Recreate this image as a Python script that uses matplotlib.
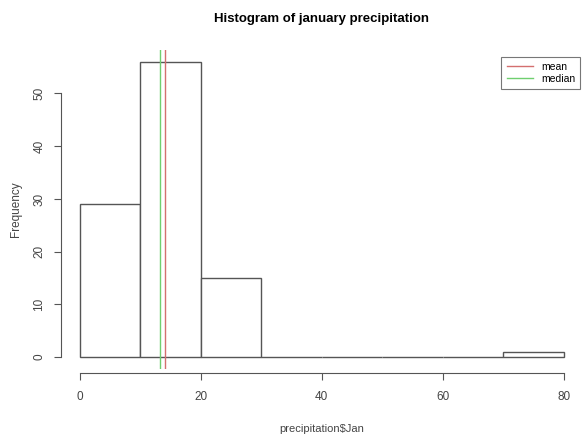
import numpy as np
import matplotlib.pyplot as plt

# histogram counts per 10-unit bin
bin_edges = [0, 10, 20, 30, 40, 50, 60, 70, 80]
counts = [29, 56, 15, 0, 0, 0, 0, 1]
mean_jan = 14.0
median_jan = 13.3
x_ticks = [0, 20, 40, 60, 80]
y_ticks = [0, 10, 20, 30, 40, 50]

plt.rcParams['font.family'] = ['Liberation Sans', 'DejaVu Sans']

fig = plt.figure(figsize=(5.83, 4.38), dpi=100)
ax = fig.add_axes([60.5 / 583, 69 / 438, 1 - 60.5 / 583, 319 / 438])

edge_col = '#555555'
left = np.array(bin_edges[:-1])
ax.bar(left, counts, width=np.diff(bin_edges), align='edge',
       facecolor='white', edgecolor=edge_col, linewidth=1.0)

ax.axvline(mean_jan, color='#d46f6f', linewidth=1.0, label='mean')
ax.axvline(median_jan, color='#6fcf6f', linewidth=1.0, label='median')

ax.set_xlim(-3.2, 83.2)
ax.set_ylim(-2.24, 58.24)

# R style axes
for s in ['top', 'right']:
    ax.spines[s].set_visible(False)
ax.spines['left'].set_bounds(0, 50)
ax.spines['bottom'].set_bounds(0, 80)
ax.spines['bottom'].set_position(('outward', 3))
for s in ['left', 'bottom']:
    ax.spines[s].set_color(edge_col)
ax.set_xticks(x_ticks)
ax.set_yticks(y_ticks)
ax.tick_params(colors=edge_col, labelcolor='#444444', length=5, labelsize=8.5)
ax.tick_params(axis='x', pad=8)
ax.tick_params(axis='y', pad=6)
plt.setp(ax.get_yticklabels(), rotation=90, va='center')

ax.set_xlabel(r'precipitation\$Jan', fontsize=8, color='#444444', labelpad=15)
ax.set_ylabel('Frequency', fontsize=8.5, color='#444444', labelpad=8)
ax.set_title('Histogram of january precipitation', fontsize=9.5,
             fontweight='bold', pad=20)

leg = ax.legend(loc='upper right', bbox_to_anchor=(1.005, 0.995), fontsize=7.5,
                frameon=True, fancybox=False, handlelength=2.5,
                borderpad=0.5, labelspacing=0.2)
leg.get_frame().set_edgecolor(edge_col)
leg.get_frame().set_linewidth(0.8)

fig.savefig('out.png', dpi=100)
